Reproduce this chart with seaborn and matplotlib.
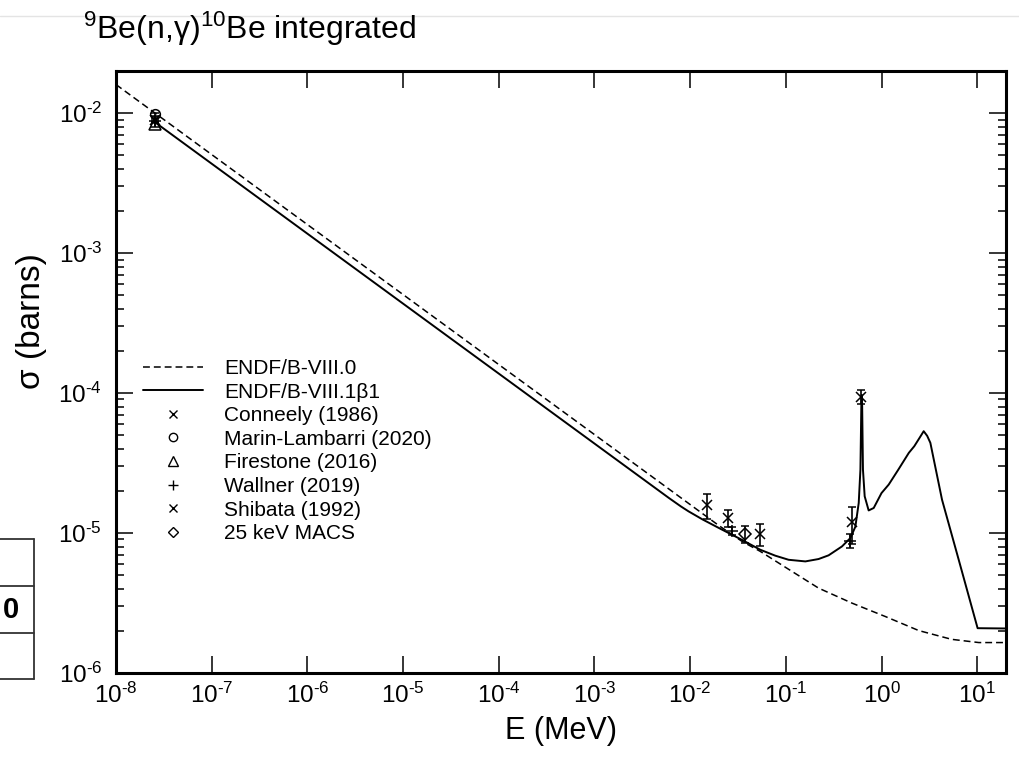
import numpy as np
import pandas as pd
import matplotlib
matplotlib.use("Agg")
import matplotlib.pyplot as plt
import seaborn as sns
from matplotlib.lines import Line2D
from matplotlib.ticker import LogLocator, NullLocator, NullFormatter, FuncFormatter

# ---------------- data ----------------
e_viii0 = [1e-8, 0.02, 0.035, 0.054, 0.10, 0.22, 0.49, 1.10, 2.45, 5.4, 10.4, 20.0]
s_viii0 = [1.60e-2, 1.13e-5, 8.7e-6, 7.4e-6, 5.67e-6, 4.04e-6, 3.16e-6, 2.53e-6,
           2.01e-6, 1.74e-6, 1.65e-6, 1.65e-6]

e_viii1 = [2.53e-8, 6.0e-3, 8.0e-3, 9.6e-3, 0.0135, 0.0214, 0.0347, 0.054, 0.0776, 0.107,
           0.160, 0.22, 0.28, 0.386, 0.473, 0.533, 0.578, 0.602, 0.616, 0.622, 0.628,
           0.640, 0.667, 0.734, 0.829, 1.0, 1.19, 1.5, 1.93, 2.2, 2.5, 2.76, 3.0, 3.24,
           4.29, 6.41, 10.1, 20.0]
s_viii1 = [8.65e-3, 1.78e-5, 1.55e-5, 1.43e-5, 1.25e-5, 1.06e-5, 8.95e-6, 7.6e-6, 6.89e-6,
           6.44e-6, 6.27e-6, 6.52e-6, 6.93e-6, 8.02e-6, 9.21e-6, 1.11e-5, 1.64e-5, 2.84e-5,
           8.53e-5, 9.7e-5, 8.0e-5, 2.84e-5, 1.83e-5, 1.45e-5, 1.51e-5, 1.93e-5, 2.22e-5,
           2.84e-5, 3.74e-5, 4.17e-5, 4.79e-5, 5.34e-5, 4.95e-5, 4.41e-5, 1.73e-5, 6.44e-6,
           2.09e-6, 2.08e-6]

conneely_e = [2.53e-8]
conneely_s = [9.0e-3]
conneely_err = [4.0e-4]

marin_e = [2.53e-8]
marin_s = [9.8e-3]
marin_err = [3.0e-4]

firestone_e = [2.53e-8]
firestone_s = [8.4e-3]
firestone_err = [4.0e-4]

wallner_e = [2.53e-8, 0.0273, 0.473]
wallner_s = [8.8e-3, 1.04e-5, 8.8e-6]
wallner_err = [3.0e-4, 0.7e-6, 1.0e-6]

shibata_e = [0.0150, 0.0248, 0.054, 0.492, 0.617]
shibata_s = [1.59e-5, 1.29e-5, 9.84e-6, 1.19e-5, 9.41e-5]
shibata_err = [3.2e-6, 1.8e-6, 1.7e-6, 3.5e-6, 1.05e-5]

macs_e = [0.037]
macs_s = [9.84e-6]
macs_err = [1.4e-6]

legend_labels = ["ENDF/B-VIII.0", "ENDF/B-VIII.1\u03b21", "Conneely (1986)",
                 "Marin-Lambarri (2020)", "Firestone (2016)", "Wallner (2019)",
                 "Shibata (1992)", "25 keV MACS"]
title_text = "$^{9}$Be(n,\u03b3)$^{10}$Be integrated"
xlabel_text = "E (MeV)"
ylabel_text = "\u03c3 (barns)"

# ---------------- style ----------------
sns.set_theme(style="white")
plt.rcParams.update({
    "font.family": ["Liberation Sans", "DejaVu Sans"],
    "mathtext.fontset": "custom",
    "mathtext.rm": "Liberation Sans",
    "mathtext.it": "Liberation Sans:italic",
    "mathtext.bf": "Liberation Sans:bold",
    "axes.unicode_minus": False,
})

W, H = 1019, 757
fig = plt.figure(figsize=(W / 100, H / 100), dpi=100)
fig.patch.set_facecolor("white")
L, R, T, B = 116, 1006, 71, 673
ax = fig.add_axes([L / W, 1 - B / H, (R - L) / W, (B - T) / H])
ax.set_facecolor("white")

df0 = pd.DataFrame({"E": e_viii0, "sigma": s_viii0})
df1 = pd.DataFrame({"E": e_viii1, "sigma": s_viii1})
sns.lineplot(data=df0, x="E", y="sigma", ax=ax, color="black", lw=1.1,
             sort=False, estimator=None)
ax.lines[-1].set_dashes([4.5, 2.6])
sns.lineplot(data=df1, x="E", y="sigma", ax=ax, color="black", lw=1.4,
             sort=False, estimator=None)

ms = 7
pts = [
    (conneely_e, conneely_s, conneely_err, "x", ms),
    (marin_e, marin_s, marin_err, "o", ms),
    (firestone_e, firestone_s, firestone_err, "^", ms + 1),
    (wallner_e, wallner_s, wallner_err, "+", ms + 1),
    (shibata_e, shibata_s, shibata_err, "x", ms),
    (macs_e, macs_s, macs_err, "D", ms - 1),
]
for e, s, err, mk, size in pts:
    ax.errorbar(e, s, yerr=err, fmt=mk, ms=size, mfc="none", mec="black",
                mew=1.1, ecolor="black", elinewidth=1.2, capsize=3, capthick=1.2,
                color="black", zorder=4)

ax.set_xscale("log")
ax.set_yscale("log")
ax.set_xlim(1e-8, 20)
ax.set_ylim(1e-6, 2e-2)


def pow_label(v, pos):
    n = int(round(np.log10(v)))
    if n < 0:
        return "$10^{\\text{-%d}}$" % (-n)
    return "$10^{%d}$" % n


ax.xaxis.set_major_locator(LogLocator(base=10, numticks=20))
ax.xaxis.set_minor_locator(NullLocator())
ax.xaxis.set_major_formatter(FuncFormatter(pow_label))
ax.yaxis.set_major_locator(LogLocator(base=10, numticks=20))
ax.yaxis.set_minor_locator(LogLocator(base=10, subs=np.arange(2, 10), numticks=20))
ax.yaxis.set_minor_formatter(NullFormatter())
ax.yaxis.set_major_formatter(FuncFormatter(pow_label))

ax.tick_params(which="major", direction="in", length=12, width=1.1,
               bottom=True, left=True, top=True, right=True,
               labelsize=17.5, color="black", labelcolor="black")
ax.tick_params(axis="y", which="minor", direction="in", length=6, width=1.1,
               left=True, right=True, color="black")
ax.tick_params(axis="x", which="major", pad=7)
ax.tick_params(axis="y", which="major", pad=10)
for sp in ax.spines.values():
    sp.set_linewidth(2.2)
    sp.set_color("black")
    sp.set_visible(True)

ax.set_xlabel(xlabel_text, fontsize=22, color="black", labelpad=6)
ax.set_ylabel(ylabel_text, fontsize=24, color="black")
ax.yaxis.set_label_coords((47 - L) / (R - L), (B - 321) / (B - T))

handles = [
    Line2D([], [], color="black", lw=1.1, dashes=[4.5, 2.6]),
    Line2D([], [], color="black", lw=1.4),
    Line2D([], [], ls="none", marker="x", ms=6, mec="black", mfc="none", mew=1.0),
    Line2D([], [], ls="none", marker="o", ms=6, mec="black", mfc="none", mew=1.0),
    Line2D([], [], ls="none", marker="^", ms=7, mec="black", mfc="none", mew=1.0),
    Line2D([], [], ls="none", marker="+", ms=7, mec="black", mfc="none", mew=1.0),
    Line2D([], [], ls="none", marker="x", ms=6, mec="black", mfc="none", mew=1.0),
    Line2D([], [], ls="none", marker="D", ms=5.5, mec="black", mfc="none", mew=1.0),
]
leg = ax.legend(handles, legend_labels, loc="upper left",
                bbox_to_anchor=((143 - L) / (R - L), (B - 359) / (B - T)),
                frameon=False, fontsize=15, handlelength=2.9, handletextpad=1.0,
                labelspacing=0.22, borderpad=0, borderaxespad=0)
for t in leg.get_texts():
    t.set_color("black")

fig.text(83 / W, 1 - 39 / H, title_text, fontsize=23, color="black",
         ha="left", va="baseline")

# screenshot artefacts: faint rule at top and a cut-off table at the left edge
fig.add_artist(Line2D([0, 1], [1 - 16 / H, 1 - 16 / H], transform=fig.transFigure,
                      color="#e4e4e4", lw=1.0))
tx = 34 / W
for yy in [539, 586, 633, 679]:
    fig.add_artist(Line2D([0, tx], [1 - yy / H, 1 - yy / H], transform=fig.transFigure,
                          color="#333333", lw=1.3))
fig.add_artist(Line2D([tx, tx], [1 - 539 / H, 1 - 679 / H], transform=fig.transFigure,
                      color="#333333", lw=1.3))
fig.text(19 / W, 1 - 610 / H, "0", fontsize=21, fontweight="bold", color="black",
         ha="right", va="center")

fig.savefig("out.png", dpi=100, facecolor="white")
